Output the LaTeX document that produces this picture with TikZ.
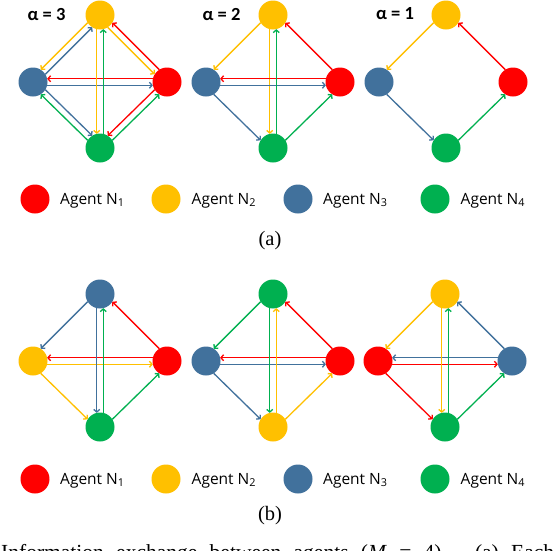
\documentclass[tikz,border=0pt]{standalone}
\usepackage{fontspec}
\setmainfont{Liberation Serif}
\newfontfamily\agentfont{Open Sans}
\newfontfamily\alphafont{Carlito}
\usetikzlibrary{arrows.meta}
\definecolor{cR}{HTML}{FF0000}
\definecolor{cY}{HTML}{FFC000}
\definecolor{cB}{HTML}{41719C}
\definecolor{cG}{HTML}{00B050}
\tikzset{
  agent/.style={circle, inner sep=0pt, outer sep=0pt, minimum size=29pt},
  arr/.style={-{Straight Barb[length=2.6pt,width=6pt]}, line width=1.3pt},
  legtext/.style={font=\agentfont\fontsize{15.5}{18}\selectfont, anchor=base west, inner sep=0pt},
  alphalbl/.style={font=\alphafont\bfseries\fontsize{18.5}{20}\selectfont, inner sep=0pt},
  subcap/.style={font=\fontsize{20.5}{24}\selectfont, inner sep=0pt},
}
% #1 colour, #2 from, #3 to, #4 direction angle, #5 side (1 right, -1 left)
\newcommand\agentlink[5]{%
  \pgfmathtruncatemacro\angA{mod(#4-#5*13+720,360)}%
  \pgfmathtruncatemacro\angB{mod(#4+180+#5*13+720,360)}%
  \draw[arr,#1] (#2.\angA) -- (#3.\angB);}
% #1 prefix, #2 x of top node, #3 y of top node, #4..#7 colours top,left,right,bottom
\newcommand\placegraph[7]{%
  \node[agent,fill=#4] (#1T) at (#2,#3) {};
  \node[agent,fill=#5] (#1L) at (#2-67,#3+67) {};
  \node[agent,fill=#6] (#1R) at (#2+67,#3+67) {};
  \node[agent,fill=#7] (#1D) at (#2,#3+133) {};}
\begin{document}
\begin{tikzpicture}[x=1pt,y=-1pt]
\useasboundingbox (0,0) rectangle (554,550);
\fill[white] (0,0) rectangle (554,550);

% ---------- (a) ----------
\node[alphalbl] (al3) at (46.5,14) {α = 3};
\node[alphalbl] (al2) at (221.5,14) {α = 2};
\node[alphalbl] (al1) at (395,14) {α = 1};

\placegraph{a1}{100}{15}{cY}{cB}{cR}{cG}
\placegraph{a2}{273}{15}{cY}{cB}{cR}{cG}
\placegraph{a3}{446}{15}{cY}{cB}{cR}{cG}

% alpha = 3
\agentlink{cY}{a1T}{a1L}{225}{1}
\agentlink{cB}{a1L}{a1T}{45}{1}
\agentlink{cR}{a1R}{a1T}{135}{1}
\agentlink{cY}{a1T}{a1R}{315}{1}
\agentlink{cR}{a1R}{a1L}{180}{1}
\agentlink{cB}{a1L}{a1R}{0}{1}
\agentlink{cY}{a1T}{a1D}{270}{1}
\agentlink{cG}{a1D}{a1T}{90}{1}
\agentlink{cG}{a1D}{a1L}{135}{-1}
\agentlink{cB}{a1L}{a1D}{315}{-1}
\agentlink{cG}{a1D}{a1R}{45}{1}
\agentlink{cR}{a1R}{a1D}{225}{1}

% alpha = 2
\agentlink{cY}{a2T}{a2L}{225}{1}
\agentlink{cY}{a2T}{a2D}{270}{1}
\agentlink{cR}{a2R}{a2T}{135}{1}
\agentlink{cR}{a2R}{a2L}{180}{1}
\agentlink{cB}{a2L}{a2R}{0}{1}
\agentlink{cB}{a2L}{a2D}{315}{1}
\agentlink{cG}{a2D}{a2T}{90}{1}
\agentlink{cG}{a2D}{a2R}{45}{1}

% alpha = 1
\agentlink{cY}{a3T}{a3L}{225}{1}
\agentlink{cB}{a3L}{a3D}{315}{1}
\agentlink{cG}{a3D}{a3R}{45}{1}
\agentlink{cR}{a3R}{a3T}{135}{1}

% legend (a)
\node[agent,fill=cR] (la1) at (35,199) {};
\node[agent,fill=cY] (la2) at (166,199) {};
\node[agent,fill=cB] (la3) at (298,199) {};
\node[agent,fill=cG] (la4) at (435,199) {};
\node[legtext] (ta1) at (60,204) {Agent N\textsubscript{1}};
\node[legtext] (ta2) at (191.5,204) {Agent N\textsubscript{2}};
\node[legtext] (ta3) at (323,204) {Agent N\textsubscript{3}};
\node[legtext] (ta4) at (460.5,204) {Agent N\textsubscript{4}};
\node[subcap] (capa) at (270,241) {(a)};

% ---------- (b) ----------
\placegraph{b1}{100}{294}{cB}{cY}{cR}{cG}
\placegraph{b2}{273}{294}{cG}{cB}{cR}{cY}
\placegraph{b3}{445}{294}{cY}{cR}{cB}{cG}

\agentlink{cB}{b1T}{b1L}{225}{1}
\agentlink{cR}{b1R}{b1T}{135}{1}
\agentlink{cR}{b1R}{b1L}{180}{1}
\agentlink{cY}{b1L}{b1R}{0}{1}
\agentlink{cY}{b1L}{b1D}{315}{1}
\agentlink{cG}{b1D}{b1R}{45}{1}
\agentlink{cB}{b1T}{b1D}{270}{1}
\agentlink{cG}{b1D}{b1T}{90}{1}

\agentlink{cG}{b2T}{b2L}{225}{1}
\agentlink{cR}{b2R}{b2T}{135}{1}
\agentlink{cR}{b2R}{b2L}{180}{1}
\agentlink{cB}{b2L}{b2R}{0}{1}
\agentlink{cB}{b2L}{b2D}{315}{1}
\agentlink{cY}{b2D}{b2R}{45}{1}
\agentlink{cG}{b2T}{b2D}{270}{1}
\agentlink{cY}{b2D}{b2T}{90}{1}

\agentlink{cY}{b3T}{b3L}{225}{1}
\agentlink{cB}{b3R}{b3T}{135}{1}
\agentlink{cB}{b3R}{b3L}{180}{1}
\agentlink{cR}{b3L}{b3R}{0}{1}
\agentlink{cR}{b3L}{b3D}{315}{1}
\agentlink{cG}{b3D}{b3R}{45}{1}
\agentlink{cY}{b3T}{b3D}{270}{1}
\agentlink{cG}{b3D}{b3T}{90}{1}

% legend (b)
\node[agent,fill=cR] (lb1) at (35,479) {};
\node[agent,fill=cY] (lb2) at (166,479) {};
\node[agent,fill=cB] (lb3) at (298,479) {};
\node[agent,fill=cG] (lb4) at (435,479) {};
\node[legtext] (tb1) at (60,484) {Agent N\textsubscript{1}};
\node[legtext] (tb2) at (191.5,484) {Agent N\textsubscript{2}};
\node[legtext] (tb3) at (323,484) {Agent N\textsubscript{3}};
\node[legtext] (tb4) at (460.5,484) {Agent N\textsubscript{4}};
\node[subcap] (capb) at (270,516) {(b)};

% cut caption line (the reference cuts it at the bottom edge)
\node[font=\fontsize{21.5}{24}\selectfont, anchor=base west, inner sep=0pt] (figcap) at (1,559)
  {\makebox[553pt][s]{Information exchange between agents (\textit{M} = 4). (a) Each}};
\end{tikzpicture}
\end{document}
